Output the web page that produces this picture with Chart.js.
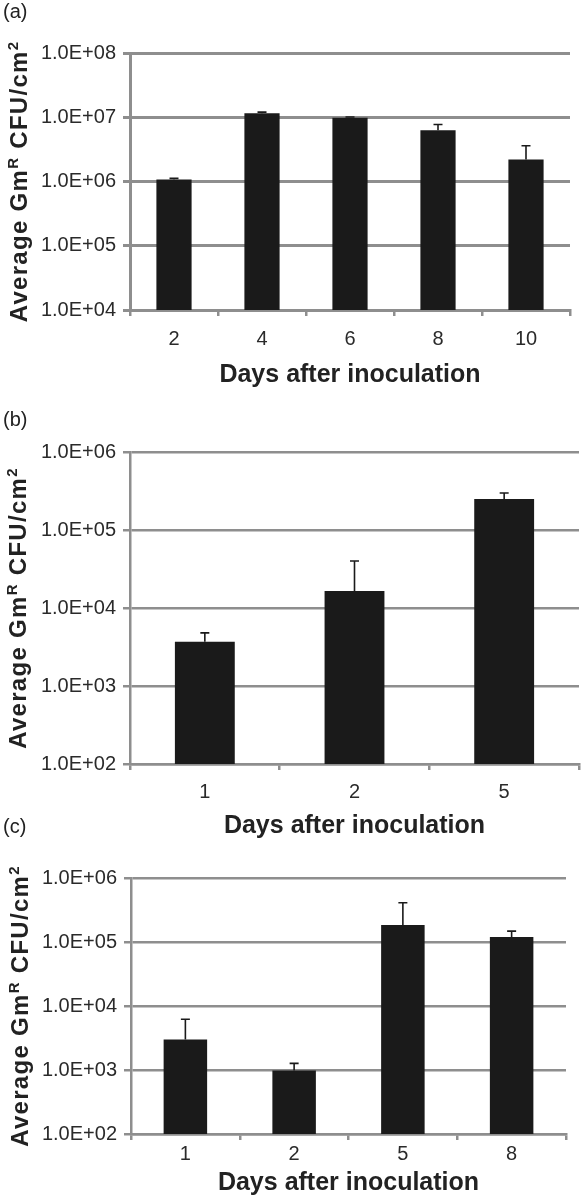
<!DOCTYPE html>
<html lang="en">
<head>
  <meta charset="UTF-8">
  <meta name="viewport" content="width=device-width, initial-scale=1.0">
  <title>Average GmR CFU/cm2 after inoculation</title>
  <script src="https://cdn.jsdelivr.net/npm/chart.js"></script>
  <style>
    body {
      margin: 0;
      padding: 0;
      background-color: #ffffff;
    }
    .page {
      position: relative;
      width: 581px;
      height: 1199px;
      overflow: hidden;
    }
    canvas {
      position: absolute;
      left: 0;
    }
    #chartA { top: 0; }
    #chartB { top: 400px; }
    #chartC { top: 810px; }
  </style>
</head>
<body>
  <div class="page">
    <canvas id="chartA" width="581" height="400"></canvas>
    <canvas id="chartB" width="581" height="445"></canvas>
    <canvas id="chartC" width="581" height="389"></canvas>
  </div>

  <script>
    // Panel (a)
    const daysA = ["2", "4", "6", "8", "10"];
    const meanA = [1.07e6, 1.15e7, 9.8e6, 6.3e6, 2.2e6];
    const sdA = [0.05e6, 0.05e7, 0.3e6, 1.4e6, 1.4e6];
    const yTicksA = [1e4, 1e5, 1e6, 1e7, 1e8];
    const yLabelsA = ["1.0E+04", "1.0E+05", "1.0E+06", "1.0E+07", "1.0E+08"];

    // Panel (b)
    const daysB = ["1", "2", "5"];
    const meanB = [3.7e3, 1.65e4, 2.5e5];
    const sdB = [1.1e3, 2.35e4, 4.8e4];
    const yTicksB = [1e2, 1e3, 1e4, 1e5, 1e6];
    const yLabelsB = ["1.0E+02", "1.0E+03", "1.0E+04", "1.0E+05", "1.0E+06"];

    // Panel (c)
    const daysC = ["1", "2", "5", "8"];
    const meanC = [3.0e3, 9.8e2, 1.85e5, 1.2e5];
    const sdC = [3.2e3, 2.9e2, 2.25e5, 2.8e4];
    const yTicksC = [1e2, 1e3, 1e4, 1e5, 1e6];
    const yLabelsC = ["1.0E+02", "1.0E+03", "1.0E+04", "1.0E+05", "1.0E+06"];

    const FONT = "'Liberation Sans', Arial, Helvetica, sans-serif";
    const GRID = "#8e8e8e";
    const BAR = "#1a1a1a";

    // upper whisker + cap on every bar
    const errorBars = {
      id: "errorBars",
      afterDatasetsDraw(chart) {
        const ctx = chart.ctx;
        const y = chart.scales.y;
        chart.data.datasets.forEach((ds, i) => {
          chart.getDatasetMeta(i).data.forEach((bar, j) => {
            const top = y.getPixelForValue(ds.data[j] + ds.errors[j]);
            ctx.save();
            ctx.strokeStyle = BAR;
            ctx.lineWidth = 1.6;
            ctx.beginPath();
            ctx.moveTo(bar.x, bar.y);
            ctx.lineTo(bar.x, top);
            ctx.moveTo(bar.x - 4.5, top);
            ctx.lineTo(bar.x + 4.5, top);
            ctx.stroke();
            ctx.restore();
          });
        });
      }
    };

    // panel letter and the y title with superscripts
    const panelDecor = {
      id: "panelDecor",
      afterDraw(chart, args, opts) {
        const ctx = chart.ctx;
        const area = chart.chartArea;
        ctx.save();
        ctx.fillStyle = "#222";
        ctx.font = "20px " + FONT;
        ctx.textBaseline = "middle";
        ctx.textAlign = "left";
        ctx.fillText(opts.label, 3, opts.labelY);

        const parts = [
          { t: "Average Gm", big: true },
          { t: "R", big: false },
          { t: " CFU/cm", big: true },
          { t: "2", big: false }
        ];
        const big = "bold 24px " + FONT;
        const small = "bold 15px " + FONT;
        ctx.letterSpacing = "1.3px";
        let total = 0;
        parts.forEach(p => {
          ctx.font = p.big ? big : small;
          p.w = ctx.measureText(p.t).width;
          total += p.w;
        });
        ctx.translate(opts.titleX, (area.top + area.bottom) / 2);
        ctx.rotate(-Math.PI / 2);
        ctx.textBaseline = "alphabetic";
        let x = -total / 2;
        parts.forEach(p => {
          ctx.font = p.big ? big : small;
          ctx.fillText(p.t, x, p.big ? 0 : -9);
          x += p.w;
        });
        ctx.restore();
      }
    };

    function makePanel(id, o) {
      const ctx = document.getElementById(id).getContext("2d");
      return new Chart(ctx, {
        type: "bar",
        data: {
          labels: o.days,
          datasets: [{
            data: o.mean,
            errors: o.sd,
            backgroundColor: BAR,
            borderWidth: 0,
            barPercentage: 0.4,
            categoryPercentage: 1.0
          }]
        },
        options: {
          responsive: false,
          animation: false,
          layout: { padding: { top: o.top, right: o.right, left: 0, bottom: 0 } },
          plugins: {
            legend: { display: false },
            tooltip: { enabled: false },
            panelDecor: { label: o.label, labelY: o.labelY, titleX: o.titleX }
          },
          scales: {
            x: {
              afterFit: s => { s.height = o.xHeight; },
              grid: { drawOnChartArea: false, color: GRID, lineWidth: 2.5, tickLength: 6 },
              border: { color: GRID, width: o.gw },
              ticks: { font: { family: FONT, size: 20 }, color: "#2a2a2a", padding: o.tickPad },
              title: {
                display: true,
                text: "Days after inoculation",
                font: { family: FONT, size: 25, weight: "bold" },
                color: "#222",
                padding: { top: 0, bottom: o.titlePad }
              }
            },
            y: {
              type: "logarithmic",
              min: o.yTicks[0],
              max: o.yTicks[o.yTicks.length - 1],
              afterBuildTicks: s => { s.ticks = o.yTicks.map(v => ({ value: v })); },
              afterFit: s => { s.width = o.left; },
              grid: { color: GRID, lineWidth: o.gw, tickLength: 7 },
              border: { color: GRID, width: o.gw },
              ticks: {
                font: { family: FONT, size: 20 },
                color: "#2a2a2a",
                padding: 7,
                callback: v => o.yLabels[o.yTicks.findIndex(t => Math.abs(Math.log10(t) - Math.log10(v)) < 1e-6)]
              }
            }
          }
        },
        plugins: [errorBars, panelDecor]
      });
    }

    makePanel("chartA", {
      days: daysA, mean: meanA, sd: sdA, yTicks: yTicksA, yLabels: yLabelsA,
      label: "(a)", labelY: 12, titleX: 27,
      top: 53, right: 11, left: 130, xHeight: 90, gw: 3, tickPad: 11, titlePad: 10
    });

    makePanel("chartB", {
      days: daysB, mean: meanB, sd: sdB, yTicks: yTicksB, yLabels: yLabelsB,
      label: "(b)", labelY: 20, titleX: 26,
      top: 52, right: 2, left: 130, xHeight: 81, gw: 2.5, tickPad: 10, titlePad: 4
    });

    makePanel("chartC", {
      days: daysC, mean: meanC, sd: sdC, yTicks: yTicksC, yLabels: yLabelsC,
      label: "(c)", labelY: 17, titleX: 28,
      top: 68, right: 15, left: 131, xHeight: 65, gw: 2.5, tickPad: 2, titlePad: 1
    });
  </script>
</body>
</html>
